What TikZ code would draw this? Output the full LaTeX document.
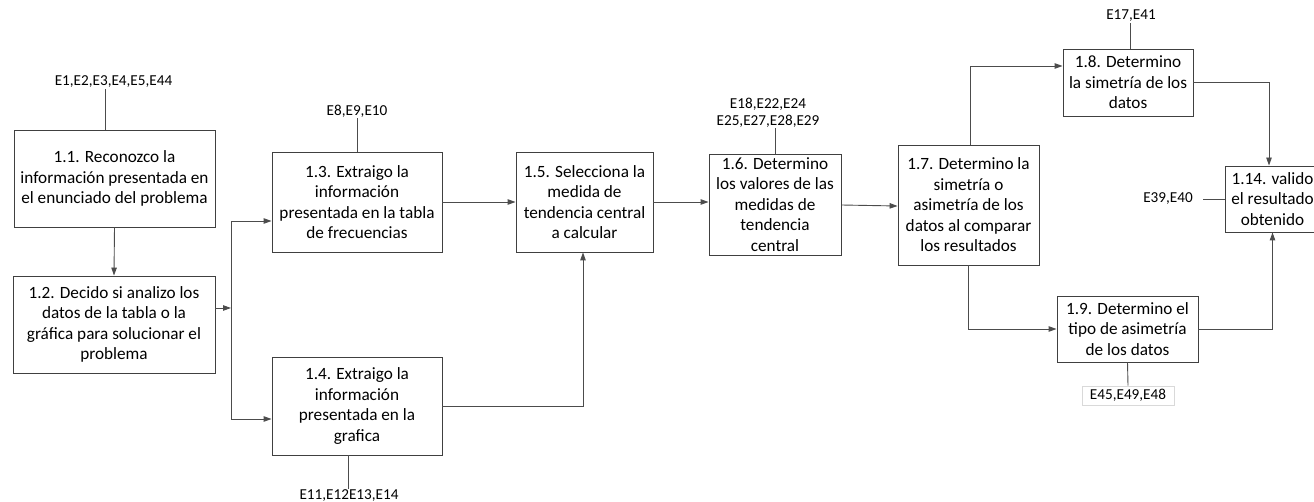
\documentclass[tikz,border=0pt]{standalone}
\usepackage{fontspec}
\setmainfont{Carlito}
\usetikzlibrary{arrows.meta,calc}
\begin{document}
\begin{tikzpicture}[x=1pt,y=-1pt,
  box/.style={draw=black!75,line width=0.9pt,inner sep=0pt,align=center,
    font=\fontsize{17.2}{20.5}\selectfont,fill=white},
  lab/.style={inner sep=1pt,align=center,font=\fontsize{15.2}{17}\selectfont},
  labbox/.style={lab,draw=black!15,line width=0.8pt,inner sep=2pt},
  conn/.style={draw=black!70,line width=0.9pt},
  arr/.style={conn,-{Triangle[length=8pt,width=5.5pt]}},
]
\useasboundingbox (0,0) rectangle (1314,502);
\begin{scope}
\clip (0,0) rectangle (1314,502);
% boxes
\node[box,minimum width=201pt,minimum height=97pt] (b11) at (114.5,178.5)
  {1.1. Reconozco la\\información presentada en\\el enunciado del problema};
\node[box,minimum width=202pt,minimum height=97pt] (b12) at (114,324.5)
  {1.2. Decido si analizo los\\datos de la tabla o la\\gráfica para solucionar el\\problema};
\node[box,minimum width=170pt,minimum height=100pt] (b13) at (357,202)
  {1.3. Extraigo la\\información\\presentada en la tabla\\de frecuencias};
\node[box,minimum width=170pt,minimum height=98pt] (b14) at (357,406)
  {1.4. Extraigo la\\información\\presentada en la\\grafica};
\node[box,minimum width=137pt,minimum height=100pt] (b15) at (584.5,202)
  {1.5. Selecciona la\\medida de\\tendencia central\\a calcular};
\node[box,minimum width=132pt,minimum height=101pt] (b16) at (775,204.5)
  {1.6. Determino\\los valores de las\\medidas de\\tendencia\\central};
\node[box,minimum width=141pt,minimum height=120pt] (b17) at (968.5,205)
  {1.7. Determino la\\simetría o\\asimetría de los\\datos al comparar\\los resultados};
\node[box,minimum width=130pt,minimum height=67pt] (b18) at (1128,82.5)
  {1.8. Determino\\la simetría de los\\datos};
\node[box,minimum width=141pt,minimum height=66pt] (b19) at (1127.5,329)
  {1.9. Determino el\\tipo de asimetría\\de los datos};
\node[box,minimum width=95pt,minimum height=66pt] (b114) at (1272.5,199)
  {1.14. valido\\el resultado\\obtenido};
% labels
\node[lab] (l11) at (113.5,82) {E1,E2,E3,E4,E5,E44};
\node[lab] (l13) at (357,111) {E8,E9,E10};
\node[lab] (l14) at (349,496) {E11,E12E13,E14};
\node[lab] (l16) at (768,112.5) {E18,E22,E24\\E25,E27,E28,E29};
\node[lab] (l18) at (1131,16) {E17,E41};
\node[lab] (l114) at (1168,199) {E39,E40};
\node[labbox,minimum width=92pt,minimum height=19pt,inner sep=0pt] (l19) at (1128,395.5) {E45,E49,E48};
% label ticks
\draw[conn] (b11.north west) ++(92,0) coordinate (t11) -- (t11 |- l11.south);
\draw[conn] (b13.north) -- (l13.south);
\draw[conn] (b14.south west) ++(77,0) coordinate (t14) -- (t14 |- l14.north);
\draw[conn] (b16.north west) ++(67,0) coordinate (t16) -- (t16 |- l16.south);
\draw[conn] (b18.north west) ++(68,0) coordinate (t18) -- (t18 |- l18.south);
\draw[conn] (b114.west) -- ++(-22,0) coordinate (t114);
\draw[conn] (b19.south) -- (l19.north);
% connectors
\coordinate (j12) at (231,308);
\draw[arr] (b11.south) -- (b12.north);
\draw[arr] (b12.east |- j12) -- (j12);
\draw[arr] (j12) |- ([yshift=-19pt]b13.west);
\draw[arr] (j12) |- ([yshift=-13pt]b14.west);
\draw[arr] (b13.east) -- (b15.west);
\draw[arr] (b14.east) -| ([xshift=-1.5pt]b15.south);
\draw[arr] (b15.east) -- (b16.west |- b15.east);
\draw[arr] ([yshift=-0.5pt]b16.east) -- ([yshift=-1pt]b17.west);
\draw[arr] ([xshift=1.5pt]b17.north) |- ([yshift=16.5pt]b18.west);
\draw[arr] (b18.east) -| ([xshift=-3.5pt]b114.north);
\draw[arr] (b17.south) |- (b19.west);
\draw[arr] (b19.east) -| (b114.south);
\end{scope}
\end{tikzpicture}
\end{document}
